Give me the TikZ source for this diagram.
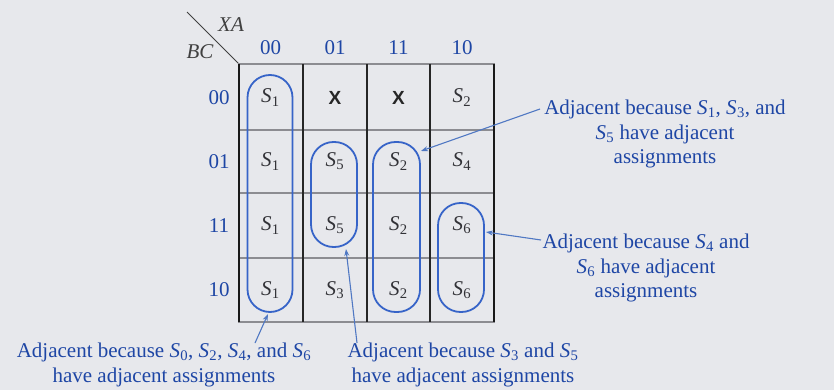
\documentclass[tikz,border=0pt]{standalone}
\usepackage{fontspec}
\setmainfont{Liberation Serif}
\newfontfamily\xsans{Liberation Sans}
\usetikzlibrary{arrows.meta}
\definecolor{bgcol}{RGB}{231,232,236}
\definecolor{lblue}{RGB}{30,70,165}
\definecolor{loopblue}{RGB}{55,100,200}
\definecolor{arrblue}{RGB}{80,120,195}
\definecolor{hgrey}{RGB}{140,140,145}
\definecolor{celltxt}{RGB}{50,50,55}
\newcommand\Sx[1]{\textit{S}\kern0.3pt\textsubscript{#1}}
\begin{document}
\begin{tikzpicture}[x=1pt,y=-1pt,
  labtxt/.style={text=lblue,font=\fontsize{21}{24.5}\selectfont,align=center,inner sep=0pt},
  axtxt/.style={text=lblue,font=\fontsize{21}{24}\selectfont,inner sep=0pt},
  celltext/.style={text=celltxt,font=\fontsize{21}{24}\selectfont,inner sep=0pt},
  xtext/.style={text=black!85,font=\xsans\bfseries\fontsize{19}{22}\selectfont,inner sep=0pt},
  loopbox/.style={draw=loopblue,line width=1.8pt,rounded corners=22.5pt,inner sep=0pt},
  hline/.style={draw=hgrey,line width=2.6pt},
  vline/.style={draw=black!85,line width=1.3pt},
  arr/.style={draw=arrblue,line width=1.1pt,-{Stealth[length=7pt,width=5pt]}}
]
\fill[bgcol] (0,0) rectangle (834,390);
\useasboundingbox (0,0) rectangle (834,390);

% header
\coordinate (d1) at (187,12);
\coordinate (d2) at (239,64);
\draw[black!75,line width=1pt] (d1) -- (d2);
\node[text=black!75,font=\fontsize{21}{24}\selectfont\itshape,inner sep=0pt] (xa) at (231,25) {XA};
\node[text=black!75,font=\fontsize{21}{24}\selectfont\itshape,inner sep=0pt] (bc) at (200,52) {BC};

% column labels
\node[axtxt] (k0) at (270.5,48) {00};
\node[axtxt] (k1) at (335,48) {01};
\node[axtxt] (k2) at (398.5,48) {11};
\node[axtxt] (k3) at (462,48) {10};
% row labels
\node[axtxt] (r0) at (219,97.5) {00};
\node[axtxt] (r1) at (219,161.5) {01};
\node[axtxt] (r2) at (219,225.5) {11};
\node[axtxt] (r3) at (219,290) {10};

% grid
\foreach \y in {64,130,193,258,322} \draw[hline] (238,\y) -- (495,\y);
\foreach \x in {303,367,430} \draw[vline] (\x,64) -- (\x,322);
\draw[black!90,line width=1.8pt] (239,64) -- (239,322);
\draw[black!90,line width=1.8pt] (494,64) -- (494,322);

% cells
\node[celltext] (c00) at (270.5,97.5) {\Sx1};
\node[xtext] (c01) at (335,97.5) {X};
\node[xtext] (c02) at (398.5,97.5) {X};
\node[celltext] (c03) at (462,97.5) {\Sx2};
\node[celltext] (c10) at (270.5,161.5) {\Sx1};
\node[celltext] (c11) at (335,161.5) {\Sx5};
\node[celltext] (c12) at (398.5,161.5) {\Sx2};
\node[celltext] (c13) at (462,161.5) {\Sx4};
\node[celltext] (c20) at (270.5,225.5) {\Sx1};
\node[celltext] (c21) at (335,225.5) {\Sx5};
\node[celltext] (c22) at (398.5,225.5) {\Sx2};
\node[celltext] (c23) at (462,225.5) {\Sx6};
\node[celltext] (c30) at (270.5,290) {\Sx1};
\node[celltext] (c31) at (335,290) {\Sx3};
\node[celltext] (c32) at (398.5,290) {\Sx2};
\node[celltext] (c33) at (462,290) {\Sx6};

% loops
\node[loopbox,minimum width=45pt,minimum height=237pt] (l1) at (270,193.5) {};
\node[loopbox,minimum width=46pt,minimum height=105pt] (l5) at (334,194.5) {};
\node[loopbox,minimum width=47pt,minimum height=170pt] (l2) at (396.5,227) {};
\node[loopbox,minimum width=46pt,minimum height=109pt] (l6) at (461,257.5) {};

% labels
\node[labtxt] (t1) at (665,134) {Adjacent because \Sx1, \Sx3, and\\\Sx5 have adjacent\\assignments};
\node[labtxt] (t2) at (646,268) {Adjacent because \Sx4 and\\\Sx6 have adjacent\\assignments};
\node[labtxt] (t3) at (164,365) {Adjacent because \Sx0, \Sx2, \Sx4, and \Sx6\\have adjacent assignments};
\node[labtxt] (t4) at (463,365) {Adjacent because \Sx3 and \Sx5\\have adjacent assignments};

% arrows
\coordinate (a1s) at (540,109);
\coordinate (a1e) at (421,151);
\coordinate (a2s) at (541,240);
\coordinate (a2e) at (486,232);
\coordinate (a3s) at (255,343);
\coordinate (a3e) at (268,314);
\coordinate (a4s) at (357,343);
\coordinate (a4e) at (346,249);
\draw[arr] (a1s) -- (a1e);
\draw[arr] (a2s) -- (a2e);
\draw[arr] (a3s) -- (a3e);
\draw[arr] (a4s) -- (a4e);
\end{tikzpicture}
\end{document}
